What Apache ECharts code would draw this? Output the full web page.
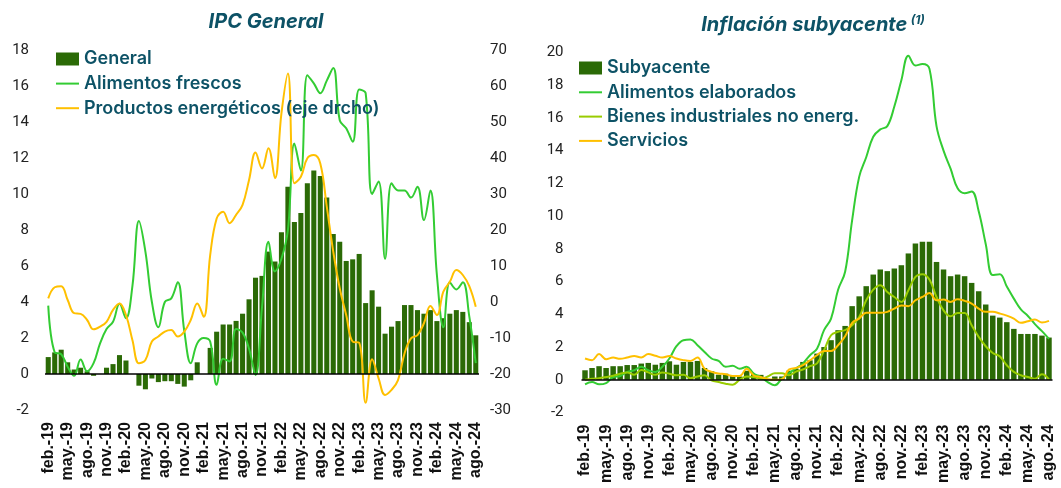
<!DOCTYPE html>
<html><head><meta charset="utf-8">
<script src="https://cdn.jsdelivr.net/npm/echarts@6/dist/echarts.min.js"></script>
<style>html,body{margin:0;padding:0;background:#fff}#c{width:1061px;height:488px}</style>
</head><body><div id="c"></div>
<script>
const categories = [
 'feb.-19','mar.-19','abr.-19','may.-19','jun.-19','jul.-19','ago.-19','sep.-19','oct.-19','nov.-19','dic.-19',
 'ene.-20','feb.-20','mar.-20','abr.-20','may.-20','jun.-20','jul.-20','ago.-20','sep.-20','oct.-20','nov.-20','dic.-20',
 'ene.-21','feb.-21','mar.-21','abr.-21','may.-21','jun.-21','jul.-21','ago.-21','sep.-21','oct.-21','nov.-21','dic.-21',
 'ene.-22','feb.-22','mar.-22','abr.-22','may.-22','jun.-22','jul.-22','ago.-22','sep.-22','oct.-22','nov.-22','dic.-22',
 'ene.-23','feb.-23','mar.-23','abr.-23','may.-23','jun.-23','jul.-23','ago.-23','sep.-23','oct.-23','nov.-23','dic.-23',
 'ene.-24','feb.-24','mar.-24','abr.-24','may.-24','jun.-24','jul.-24','ago.-24'];

// Left panel: IPC General
const general = [0.94,1.2,1.35,0.65,0.25,0.35,0.15,-0.1,0.0,0.35,0.55,1.05,0.75,0.0,-0.65,-0.85,-0.25,-0.45,-0.4,-0.4,-0.55,-0.7,-0.35,0.65,0.0,1.45,2.35,2.75,2.75,2.95,3.35,4.15,5.35,5.45,6.8,6.25,7.87,10.4,8.45,8.95,10.6,11.3,11.0,9.8,7.78,7.35,6.28,6.37,6.67,3.94,4.65,3.74,2.24,2.63,2.94,3.83,3.83,3.55,3.35,3.55,2.94,3.1,3.35,3.55,3.45,2.88,2.15];
const alimentosFrescos = [3.8,1.2,1.1,0.4,-0.1,0.8,0.15,0.6,1.7,2.5,2.9,3.9,3.1,4.9,8.5,6.8,4.0,2.6,4.0,4.2,5.1,2.4,0.6,1.7,2.0,1.8,-0.6,0.85,0.7,2.5,2.3,1.4,-0.05,3.7,7.35,5.7,6.4,8.0,12.8,11.3,16.6,16.15,15.6,16.3,17.0,14.1,13.65,12.9,15.8,15.6,10.0,10.7,6.4,10.6,10.2,10.2,9.8,10.4,8.55,10.2,5.5,2.6,5.1,4.7,5.1,3.2,0.6];
const energeticos = [1.0,4.1,4.4,0.56,-3.1,-3.3,-5,-7.6,-6.85,-5.5,-2.2,-0.4,-3.6,-10.6,-17,-16.1,-11.0,-9.6,-8.2,-7.8,-9.6,-8.2,-5,-0.4,-4.1,13,23.2,25.1,21.9,24.2,27,33.9,41.5,37.1,42.7,34.4,52.4,63.5,33,34.8,39.9,40.8,38.5,26.5,14,3.8,-3.6,-11,-11.3,-28,-15.9,-21.2,-25.8,-24.4,-21.7,-14.3,-10.1,-9.2,-5.9,-1.1,-3.6,2.9,5.6,8.9,7.5,4.4,-1.3];

// Right panel: Inflación subyacente
const subyacente = [0.58,0.72,0.83,0.72,0.83,0.83,0.9,0.9,0.99,1.03,0.92,1.03,1.13,0.92,1.09,1.09,1.15,0.72,0.52,0.31,0.37,0.24,0.2,0.55,0.35,0.3,0.05,0.2,0.2,0.55,0.68,1.09,1.19,1.6,2.0,2.42,3.03,3.29,4.5,5.1,5.72,6.43,6.74,6.64,6.8,7.0,7.72,8.33,8.43,8.43,7.2,6.74,6.33,6.43,6.33,5.92,5.41,4.6,3.92,3.8,3.52,3.11,2.8,2.8,2.8,2.7,2.58];
const alimentosElaborados = [-0.28,-0.14,-0.28,-0.2,0.17,0.23,0.48,0.58,0.79,0.58,0.48,0.79,1.3,2.05,2.42,2.46,2.11,1.7,1.3,1.15,0.79,0.85,0.68,0.79,0.38,0.17,-0.14,-0.34,0.07,0.4,0.7,1.0,1.5,1.9,3.03,3.74,5.5,6.6,9.75,12.4,13.6,14.85,15.3,15.5,16.7,18.3,19.8,19.2,19.3,19.0,15.5,14.0,12.9,11.7,11.4,11.5,10.3,8.3,6.4,6.45,5.7,4.96,4.3,3.9,3.4,2.97,2.5];
const bienesIndustriales = [0.0,0.06,0.1,0.17,0.25,0.37,0.45,0.3,0.6,0.45,0.3,0.45,0.37,0.27,0.3,0.1,0.2,0.27,-0.04,-0.14,-0.24,-0.3,0,0.2,0.17,0.06,0.2,0.4,0.4,0.27,0.5,0.63,0.83,1.0,1.8,2.72,2.93,3.03,3.33,3.84,4.86,5.51,5.78,5.37,5.06,4.76,5.47,6.29,6.45,6.12,5.06,4.24,3.88,4.08,4.08,3.33,2.62,2.05,1.64,1.43,0.89,0.48,0.28,0.17,0.07,0.34,0.03];
const servicios = [1.3,1.2,1.57,1.26,1.36,1.28,1.36,1.45,1.36,1.57,1.47,1.36,1.45,1.3,1.2,1.15,1.36,0.68,0.48,0.38,0.34,0.23,0.23,0.68,0.27,0.17,0.03,0.0,0.04,0.62,0.72,0.89,1.19,1.5,1.76,1.76,2.11,2.66,3.48,3.74,4.09,4.09,4.09,4.15,4.35,4.54,4.5,4.86,5.06,5.31,4.86,4.9,4.76,4.92,4.82,4.66,4.35,4.15,4.15,4.05,3.92,3.74,3.48,3.58,3.68,3.5,3.6];

const leftTicks = {min:-2, max:18, interval:2};
const rightTicks = {min:-30, max:70, interval:10};
const coreTicks = {min:-2, max:20, interval:2};

const BAR = '#2b6a06', GREEN = '#33cc33', LIME = '#99cc00', ORANGE = '#ffc000';
const TEAL = '#0d5266';
const yLabel = {color:'#222', fontSize:15, fontFamily:'Roboto'};
const xLabel = {interval:2, rotate:90, fontSize:16, fontWeight:'bold', color:'#111', fontFamily:'Liberation Sans', margin:12};
const zeroLine = {silent:true, symbol:'none', label:{show:false}, lineStyle:{color:'#000', width:1.5, type:'solid'}, data:[{yAxis:0}]};
const noSym = {color:'rgba(0,0,0,0)', borderColor:'rgba(0,0,0,0)', borderWidth:0};
const legText = {fontSize:18, fontWeight:600, color:TEAL, fontFamily:'Inter'};

const chart = echarts.init(document.getElementById('c'));
chart.setOption({
  animation:false,
  graphic:[
    {type:'text', x:266, y:22, style:{text:'IPC General', fill:TEAL, font:'italic bold 20px Inter', align:'center', verticalAlign:'middle'}},
    {type:'text', x:813, y:25, style:{text:'{a|Inflación subyacente} {s|(1)}', align:'center', verticalAlign:'middle',
      rich:{a:{fill:TEAL, fontStyle:'italic', fontWeight:'bold', fontSize:20, fontFamily:'Inter'},
            s:{fill:TEAL, fontStyle:'italic', fontWeight:'bold', fontSize:12, fontFamily:'Inter', verticalAlign:'top', padding:[0,0,10,0]}}}}
  ],
  legend:[
    {orient:'vertical', left:55, top:50, padding:0, itemWidth:23, itemHeight:13, itemGap:6.6,
     textStyle:legText,
     data:[{name:'General', icon:'rect'},{name:'Alimentos frescos', itemStyle:noSym},{name:'Productos energéticos (eje drcho)', itemStyle:noSym}]},
    {orient:'vertical', left:578, top:59, padding:0, itemWidth:23, itemHeight:13, itemGap:6.3,
     textStyle:legText,
     data:[{name:'Subyacente', icon:'rect'},{name:'Alimentos elaborados', itemStyle:noSym},{name:'Bienes industriales no energ.', itemStyle:noSym},{name:'Servicios', itemStyle:noSym}]}
  ],
  grid:[
    {left:45, top:50, width:434, height:360},
    {left:581.5, top:52.5, width:471, height:360}
  ],
  xAxis:[
    {type:'category', gridIndex:0, data:categories, axisLine:{show:false}, axisTick:{show:false}, axisLabel:xLabel},
    {type:'category', gridIndex:1, data:categories, axisLine:{show:false}, axisTick:{show:false}, axisLabel:xLabel}
  ],
  yAxis:[
    {type:'value', gridIndex:0, min:leftTicks.min, max:leftTicks.max, interval:leftTicks.interval, splitLine:{show:false}, axisLine:{show:false}, axisTick:{show:false}, axisLabel:Object.assign({margin:16}, yLabel)},
    {type:'value', gridIndex:0, position:'right', min:rightTicks.min, max:rightTicks.max, interval:rightTicks.interval, splitLine:{show:false}, axisLine:{show:false}, axisTick:{show:false}, axisLabel:Object.assign({margin:11}, yLabel)},
    {type:'value', gridIndex:1, min:coreTicks.min, max:coreTicks.max, interval:coreTicks.interval, splitLine:{show:false}, axisLine:{show:false}, axisTick:{show:false}, axisLabel:Object.assign({margin:18}, yLabel)}
  ],
  series:[
    {name:'General', type:'bar', xAxisIndex:0, yAxisIndex:0, data:general, barCategoryGap:'22%', itemStyle:{color:BAR}, markLine:zeroLine},
    {name:'Alimentos frescos', type:'line', xAxisIndex:0, yAxisIndex:0, data:alimentosFrescos, smooth:0.4, symbol:'none', lineStyle:{color:GREEN, width:2}, itemStyle:{color:GREEN}},
    {name:'Productos energéticos (eje drcho)', type:'line', xAxisIndex:0, yAxisIndex:1, data:energeticos, smooth:0.4, symbol:'none', lineStyle:{color:ORANGE, width:2}, itemStyle:{color:ORANGE}},
    {name:'Subyacente', type:'bar', xAxisIndex:1, yAxisIndex:2, data:subyacente, barCategoryGap:'22%', itemStyle:{color:BAR}, markLine:zeroLine},
    {name:'Alimentos elaborados', type:'line', xAxisIndex:1, yAxisIndex:2, data:alimentosElaborados, smooth:0.4, symbol:'none', lineStyle:{color:GREEN, width:2}, itemStyle:{color:GREEN}},
    {name:'Bienes industriales no energ.', type:'line', xAxisIndex:1, yAxisIndex:2, data:bienesIndustriales, smooth:0.4, symbol:'none', lineStyle:{color:LIME, width:2}, itemStyle:{color:LIME}},
    {name:'Servicios', type:'line', xAxisIndex:1, yAxisIndex:2, data:servicios, smooth:0.4, symbol:'none', lineStyle:{color:ORANGE, width:2}, itemStyle:{color:ORANGE}}
  ]
});
</script></body></html>
